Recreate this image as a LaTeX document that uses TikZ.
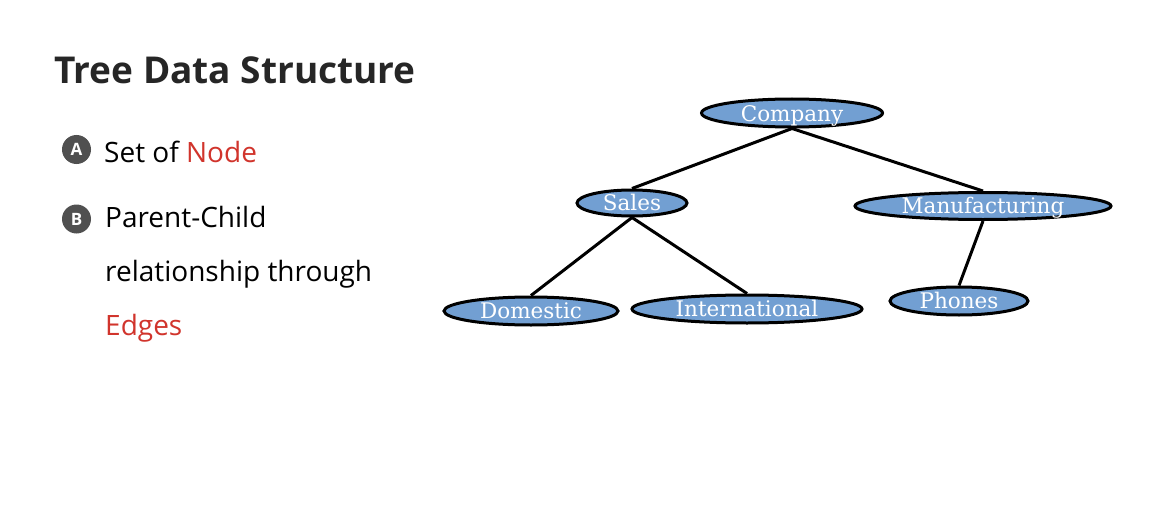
\documentclass[tikz,border=0pt]{standalone}
\usepackage{fontspec}
\setmainfont{Open Sans}
\newfontfamily\treefont{DejaVu Serif}
\usetikzlibrary{shapes.geometric}
\definecolor{nodeblue}{RGB}{114,159,210}
\definecolor{redtxt}{RGB}{209,52,44}
\definecolor{titlegray}{RGB}{38,38,38}
\definecolor{badge}{RGB}{80,80,80}
\tikzset{
  tn/.style={ellipse, draw=black, line width=3pt, fill=nodeblue, inner sep=0pt},
  tt/.style={text=white, font=\treefont\fontsize{21.5}{21.5}\selectfont, inner sep=0pt, anchor=base},
  edge/.style={line width=3pt, draw=black},
  bodytxt/.style={font=\fontsize{28}{28}\selectfont, anchor=base west, inner sep=0pt, text=black},
  badgec/.style={circle, fill=badge, minimum size=29pt, inner sep=0pt, text=white, font=\bfseries\fontsize{17}{17}\selectfont}
}
\begin{document}
\begin{tikzpicture}[x=1pt,y=-1pt]
\useasboundingbox[fill=white] (0,0) rectangle (1164,508);
% left text
\node[font=\bfseries\fontsize{37}{37}\selectfont, text=titlegray, anchor=base west, inner sep=0pt] (title) at (54,84) {Tree Data Structure};
\node[badgec] (ba) at (76.5,149.5) {A};
\node[bodytxt] (t1) at (104,162) {Set of \textcolor{redtxt}{Node}};
\node[badgec] (bb) at (76.5,219) {B};
\node[bodytxt] (t2) at (105,227) {Parent-Child};
\node[bodytxt] (t3) at (105,281) {relationship through};
\node[bodytxt] (t4) at (105,335) {\textcolor{redtxt}{Edges}};
% tree nodes
\node[tn, minimum width=181pt, minimum height=28pt] (company) at (792,113) {};
\node[tn, minimum width=110pt, minimum height=26pt] (sales) at (632,203) {};
\node[tn, minimum width=256pt, minimum height=27pt] (manu) at (983,206) {};
\node[tn, minimum width=174pt, minimum height=28pt] (dom) at (531,311) {};
\node[tn, minimum width=230pt, minimum height=28pt] (intl) at (747,309) {};
\node[tn, minimum width=138pt, minimum height=28pt] (phones) at (959,301) {};
% edges
\draw[edge] (company.south) -- (sales.north);
\draw[edge] (company.south) -- (manu.north);
\draw[edge] (sales.south) -- (dom.north);
\draw[edge] (sales.south) -- (intl.north);
\draw[edge] (manu.south) -- (phones.north);
% tree labels
\node[tt] (company-t) at ([yshift=-8.5pt]company.center) {Company};
\node[tt] (sales-t) at ([yshift=-7.5pt]sales.center) {Sales};
\node[tt] (manu-t) at ([yshift=-7.5pt]manu.center) {Manufacturing};
\node[tt] (dom-t) at ([yshift=-7.5pt]dom.center) {Domestic};
\node[tt] (intl-t) at ([yshift=-7.5pt]intl.center) {International};
\node[tt] (phones-t) at ([yshift=-7.5pt]phones.center) {Phones};
\end{tikzpicture}
\end{document}
